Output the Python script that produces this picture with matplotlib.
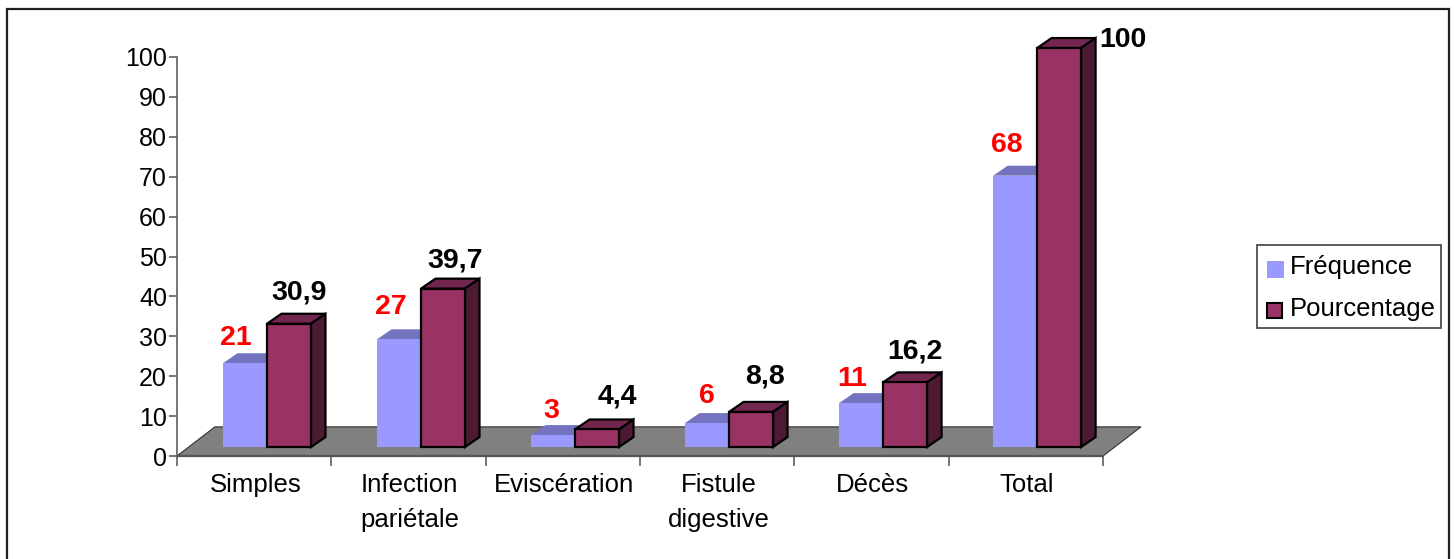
import matplotlib
matplotlib.use('Agg')
import matplotlib.pyplot as plt
from matplotlib.patches import Polygon, Rectangle

plt.rcParams['font.family'] = ['Liberation Sans', 'DejaVu Sans']

categories = ['Simples', 'Infection\npariétale', 'Eviscération', 'Fistule\ndigestive', 'Décès', 'Total']
frequence = [21, 27, 3, 6, 11, 68]
pourcentage = [30.9, 39.7, 4.4, 8.8, 16.2, 100]
freq_labels = ['21', '27', '3', '6', '11', '68']
pct_labels = ['30,9', '39,7', '4,4', '8,8', '16,2', '100']
yticks = list(range(0, 101, 10))

# hand placed value labels, pixels from the top left corner of each bar front
freq_offsets = [(13, 25), (14, 32), (20, 24), (22, 27), (13, 24), (14, 31)]
pct_offsets = [(32, 31), (34, 28), (42, 33), (36, 35), (32, 31), (86, 8)]

W, H = 1454, 559
fig = plt.figure(figsize=(W / 100, H / 100), dpi=100)

# outer frame of the chart, its bottom edge runs off the page
frame = fig.add_axes([0, 0, 1, 1], zorder=-1)
frame.set_xlim(0, W)
frame.set_ylim(H, 0)
frame.axis('off')
frame.add_patch(Rectangle((6.5, 8.5), 1442.5, 560, fc='white', ec='#202020', lw=1.6))

ax = fig.add_axes([177 / W, 1 - 456 / H, 926 / W, 399 / H])
ax.set_xlim(0, 6)
ax.set_ylim(0, 100)
ax.patch.set_visible(False)
for s in ['top', 'right']:
    ax.spines[s].set_visible(False)
for s in ['left', 'bottom']:
    ax.spines[s].set_color('#606060')
    ax.spines[s].set_linewidth(1.2)

# 3d offsets, in data units
dx = 0.094
dy = 2.5
base = 2.25
bar_w = 0.285
x0 = 0.298
pitch = 0.998

# grey floor
floor_dx = 0.246
floor_dy = 7.3
ax.add_patch(Polygon([(0, 0), (6, 0), (6 + floor_dx, floor_dy), (floor_dx, floor_dy)],
                     fc='#808080', ec='#303030', lw=0.8, clip_on=False, zorder=1))
ax.plot([0, 6], [0, 0], color='#303030', lw=1.6, clip_on=False, zorder=2)


def draw_bar(x, v, front, top, side, edge, lw, z):
    y1 = base + v
    ax.add_patch(Polygon([(x, y1), (x + bar_w, y1), (x + bar_w + dx, y1 + dy), (x + dx, y1 + dy)],
                         fc=top, ec=edge, lw=lw, clip_on=False, zorder=z))
    ax.add_patch(Polygon([(x + bar_w, base), (x + bar_w + dx, base + dy), (x + bar_w + dx, y1 + dy), (x + bar_w, y1)],
                         fc=side, ec=edge, lw=lw, clip_on=False, zorder=z))
    ax.add_patch(Rectangle((x, base), bar_w, v, fc=front, ec=edge, lw=lw, clip_on=False, zorder=z + 0.1))


for i in range(len(categories)):
    xa = i * pitch + x0
    xb = xa + bar_w
    draw_bar(xa, frequence[i], '#9999FF', '#7373BF', '#4D4D80', 'none', 0, 3)
    draw_bar(xb, pourcentage[i], '#993366', '#732650', '#4D1A33', 'black', 1.6, 4)
    ax.annotate(freq_labels[i], (xa, base + frequence[i]), xytext=freq_offsets[i], textcoords='offset pixels',
                color='red', fontsize=20.5, fontweight='bold', ha='center', va='center',
                annotation_clip=False, zorder=6)
    ax.annotate(pct_labels[i], (xb, base + pourcentage[i]), xytext=pct_offsets[i], textcoords='offset pixels',
                color='black', fontsize=20.5, fontweight='bold', ha='center', va='center',
                annotation_clip=False, zorder=6)

ax.set_yticks(yticks)
ax.set_xticks(range(7))
ax.set_xticklabels([])
ax.set_xticks([i + 0.508 for i in range(6)], minor=True)
ax.set_xticklabels(categories, minor=True, fontsize=18.5, linespacing=1.6)
ax.tick_params(axis='x', which='major', length=7, color='#606060', width=1.2)
ax.tick_params(axis='x', which='minor', length=0, pad=12)
ax.tick_params(axis='y', length=6, color='#606060', width=1.2, labelsize=18, pad=1.2)

# legend drawn by hand in figure pixels
leg = fig.add_axes([0, 0, 1, 1])
leg.set_xlim(0, W)
leg.set_ylim(H, 0)
leg.axis('off')
leg.add_patch(Rectangle((1257, 245), 184, 83, fc='white', ec='#404040', lw=1.2))
leg.add_patch(Rectangle((1267, 261), 17, 17, fc='#9999FF', ec='none'))
leg.add_patch(Rectangle((1267, 303), 15, 15, fc='#993366', ec='black', lw=1.5))
leg.text(1290, 267, 'Fréquence', fontsize=18.5, va='center', ha='left')
leg.text(1290, 309, 'Pourcentage', fontsize=18.5, va='center', ha='left')

fig.savefig('out.png', dpi=100)
